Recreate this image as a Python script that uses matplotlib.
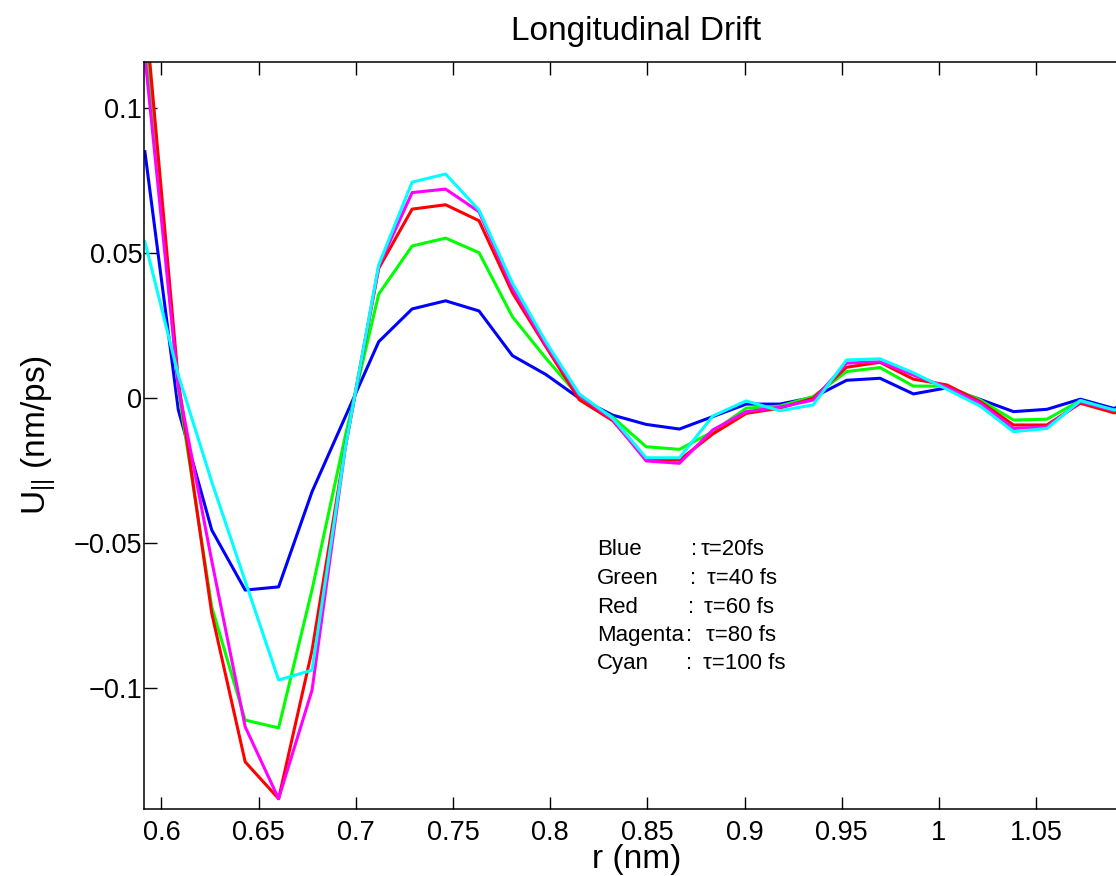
import matplotlib
matplotlib.use("Agg")
import matplotlib.pyplot as plt

plt.rcParams['font.family'] = ['Liberation Sans', 'DejaVu Sans']
plt.rcParams['mathtext.fontset'] = 'custom'
plt.rcParams['mathtext.rm'] = 'Liberation Sans'
plt.rcParams['mathtext.it'] = 'Liberation Sans:italic'

# r grid (nm)
r = [0.5915, 0.6087, 0.6259, 0.6431, 0.6603, 0.6775, 0.6946, 0.7118, 0.7290, 0.7462,
     0.7634, 0.7806, 0.7978, 0.8150, 0.8322, 0.8494, 0.8665, 0.8837, 0.9009, 0.9181,
     0.9353, 0.9525, 0.9697, 0.9869, 1.0041, 1.0213, 1.0384, 1.0556, 1.0728, 1.0900,
     1.1072]

u_20 = [0.085, -0.004, -0.0454, -0.0661, -0.065, -0.0322, -0.0064, 0.0195, 0.0308, 0.0336,
        0.0301, 0.0147, 0.0082, 0.0, -0.0058, -0.009, -0.0106, -0.0063, -0.002, -0.002,
        0.0003, 0.0062, 0.0069, 0.0015, 0.0036, -0.0004, -0.0046, -0.0038, -0.0003, -0.0035,
        0.0005]
u_40 = [0.1265, 0.003, -0.0719, -0.1109, -0.1136, -0.066, -0.013, 0.0359, 0.0525, 0.0552,
        0.0502, 0.0281, 0.0138, 0.0005, -0.0065, -0.0167, -0.0176, -0.0115, -0.0034, -0.0027,
        0.0006, 0.0092, 0.0106, 0.0042, 0.0042, -0.0006, -0.0075, -0.0072, -0.0008, -0.0043,
        -0.0035]
u_60 = [0.135, 0.006, -0.0741, -0.1253, -0.138, -0.0869, -0.0167, 0.0448, 0.0652, 0.0667,
        0.0612, 0.0364, 0.0178, -0.0005, -0.0077, -0.021, -0.0213, -0.0123, -0.0052, -0.0034,
        0.0, 0.0107, 0.0124, 0.0066, 0.0046, -0.0012, -0.0092, -0.0092, -0.0017, -0.005,
        -0.0045]
u_80 = [0.118, 0.004, -0.056, -0.1132, -0.138, -0.1006, -0.017, 0.0455, 0.0709, 0.0721,
        0.0643, 0.038, 0.0185, 0.001, -0.0073, -0.0216, -0.0224, -0.0109, -0.0046, -0.0031,
        -0.0006, 0.0121, 0.0126, 0.008, 0.0038, -0.0017, -0.0104, -0.0098, -0.0012, -0.0042,
        -0.004]
u_100 = [0.054, 0.008, -0.0288, -0.063, -0.0971, -0.0937, -0.017, 0.046, 0.0745, 0.0773,
         0.0649, 0.0397, 0.0195, 0.0015, -0.0069, -0.0205, -0.0205, -0.0061, -0.0009, -0.0043,
         -0.0023, 0.0132, 0.0136, 0.0088, 0.0031, -0.0027, -0.0115, -0.0104, -0.0008, -0.004,
         -0.003]

xticks = [0.6, 0.65, 0.7, 0.75, 0.8, 0.85, 0.9, 0.95, 1.0, 1.05]
xtick_labels = ['0.6', '0.65', '0.7', '0.75', '0.8', '0.85', '0.9', '0.95', '1', '1.05']
yticks = [-0.1, -0.05, 0, 0.05, 0.1]
ytick_labels = ['\u22120.1', '\u22120.05', '0', '0.05', '0.1']

names = ['Blue', 'Green', 'Red', 'Magenta', 'Cyan']
taus = ['\u03c4=20fs', '\u03c4=40 fs', '\u03c4=60 fs', '\u03c4=80 fs', '\u03c4=100 fs']

W, H = 1116, 876
fig = plt.figure(figsize=(W / 100, H / 100), dpi=100)
# axes run past the right edge of the figure, as in the cropped original
ax = fig.add_axes([144.3 / W, (H - 809) / H, 983.7 / W, 747 / H])

for u, c in zip([u_20, u_40, u_60, u_80, u_100], ['b', 'lime', 'r', 'magenta', 'cyan']):
    ax.plot(r, u, color=c, lw=2.2)

ax.set_xlim(0.5912, 1.0973)
ax.set_ylim(-0.14155, 0.1159)
ax.set_xticks(xticks)
ax.set_xticklabels(xtick_labels)
ax.set_yticks(yticks)
ax.set_yticklabels(ytick_labels)
ax.tick_params(direction='in', length=9, width=1, labelsize=19.5, top=True)
ax.tick_params(axis='x', pad=8)
ax.tick_params(axis='y', pad=1.5)
for s in ax.spines.values():
    s.set_linewidth(1.1)

ax.set_title('Longitudinal Drift', fontsize=24, pad=16)
ax.set_xlabel('r (nm)', fontsize=24)
ax.xaxis.set_label_coords((636.5 - 144.3) / 983.7, (809 - 844) / 747)
ax.set_ylabel(r'U$_{\mathrm{||}}$ (nm/ps)', fontsize=24)
ax.yaxis.set_label_coords((58 - 144.3) / 983.7, 0.5)

# hand-placed colour key
base_y = [555, 584, 612.7, 640.7, 669.3]
colon_x = [691, 690, 687.5, 686.5, 686.5]
tau_x = [701, 706.7, 704, 706, 703.3]
for n, t, by, cx, tx in zip(names, taus, base_y, colon_x, tau_x):
    fig.text(596.7 / W, 1 - by / H, n, fontsize=16, va='baseline')
    fig.text(cx / W, 1 - by / H, ':', fontsize=16, va='baseline')
    fig.text(tx / W, 1 - by / H, t, fontsize=16, va='baseline')

fig.savefig('out.png', dpi=100)
